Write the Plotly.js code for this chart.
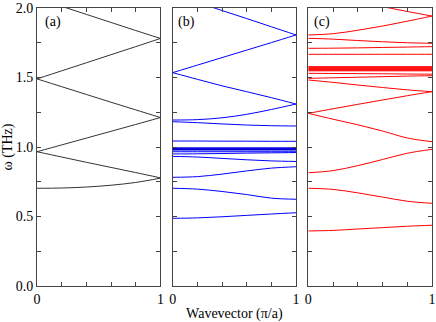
<!DOCTYPE html>
<html>
<head>
<meta charset="utf-8">
<script src="https://cdn.plot.ly/plotly-3.0.1.min.js"></script>
<style>html,body{margin:0;padding:0;background:#fff;}#chart{width:436px;height:322px;}</style>
</head>
<body>
<div id="chart"></div>
<script>
// Wavevector grid (pi/a)
const kGrid = [0, 0.2, 0.4, 0.6, 0.8, 1.0];

// Panel (a): frequencies (THz) at kGrid
const bandsA = [
  [0.703, 0.705, 0.712, 0.725, 0.745, 0.776],
  [0.966, 0.928, 0.890, 0.853, 0.816, 0.778],
  [0.966, 1.015, 1.064, 1.113, 1.162, 1.212],
  [1.490, 1.434, 1.378, 1.322, 1.267, 1.212],
  [1.490, 1.548, 1.606, 1.664, 1.722, 1.781],
  [2.070, 2.012, 1.954, 1.896, 1.838, 1.781]
];

// Panel (b)
const bandsB = [
  [0.487, 0.490, 0.498, 0.508, 0.518, 0.527],
  [0.703, 0.697, 0.680, 0.658, 0.632, 0.624],
  [0.782, 0.787, 0.805, 0.828, 0.848, 0.858],
  [0.932, 0.928, 0.918, 0.908, 0.900, 0.896],
  [0.950, 0.951, 0.953, 0.956, 0.958, 0.960],
  [0.966, 0.966, 0.966, 0.966, 0.966, 0.966],
  [1.043, 1.043, 1.042, 1.042, 1.041, 1.041],
  [1.182, 1.175, 1.166, 1.158, 1.153, 1.151],
  [1.194, 1.197, 1.210, 1.235, 1.270, 1.309],
  [1.535, 1.487, 1.440, 1.398, 1.355, 1.309],
  [1.535, 1.589, 1.643, 1.697, 1.751, 1.806],
  [2.100, 2.041, 1.982, 1.924, 1.865, 1.806]
];
const flatB = [0.978, 0.982, 0.986, 0.990, 0.994];

// Panel (c)
const bandsC = [
  [0.396, 0.400, 0.410, 0.420, 0.430, 0.437],
  [0.703, 0.695, 0.670, 0.640, 0.610, 0.595],
  [0.815, 0.830, 0.866, 0.910, 0.955, 0.983],
  [1.242, 1.200, 1.160, 1.115, 1.065, 1.038],
  [1.242, 1.275, 1.307, 1.338, 1.369, 1.398],
  [1.482, 1.465, 1.446, 1.428, 1.411, 1.398],
  [1.494, 1.498, 1.502, 1.506, 1.510, 1.513],
  [1.530, 1.529, 1.528, 1.527, 1.525, 1.524],
  [1.667, 1.667, 1.667, 1.667, 1.667, 1.667],
  [1.710, 1.711, 1.713, 1.716, 1.719, 1.722],
  [1.782, 1.776, 1.766, 1.757, 1.750, 1.746],
  [1.806, 1.815, 1.840, 1.870, 1.905, 1.942],
  [2.130, 2.090, 2.050, 2.010, 1.975, 1.942]
];
const flatC = [1.548, 1.553, 1.558, 1.563, 1.568, 1.573, 1.578];

const yTickVals = [0, 0.25, 0.5, 0.75, 1.0, 1.25, 1.5, 1.75, 2.0];
const yTickText = ['0.0', '', '0.5', '', '1.0', '', '1.5', '', '2.0'];
const xTickVals = [0, 0.2, 0.4, 0.6, 0.8, 1.0];
const xTickText = ['0', '', '', '', '', '1'];

const traces = [];
function addBands(bands, color, xa, ya, width) {
  bands.forEach(function (b) {
    traces.push({
      x: kGrid, y: b, xaxis: xa, yaxis: ya, mode: 'lines',
      line: {color: color, width: width, shape: 'spline', smoothing: 1},
      hoverinfo: 'none', showlegend: false
    });
  });
}
function addFlat(vals, color, xa, ya, width) {
  vals.forEach(function (v) {
    traces.push({
      x: kGrid, y: kGrid.map(function () { return v; }), xaxis: xa, yaxis: ya,
      mode: 'lines', line: {color: color, width: width},
      hoverinfo: 'none', showlegend: false
    });
  });
}
addBands(bandsA, '#333333', 'x', 'y', 1);
addBands(bandsB, '#0000ff', 'x2', 'y2', 1);
addFlat(flatB, '#0000dd', 'x2', 'y2', 1);
addBands(bandsC, '#ff0000', 'x3', 'y3', 1);
addFlat(flatC, '#ff0000', 'x3', 'y3', 1);

const serif = 'Liberation Serif';
const fsz = 14;
const tfont = {family: serif, size: fsz, color: '#000000'};
function xAxis(domain, anchor) {
  return {
    domain: domain, anchor: anchor, range: [0, 1], tickvals: xTickVals, ticktext: xTickText,
    ticks: 'inside', ticklen: 4, tickwidth: 1, tickcolor: '#444', mirror: 'ticks',
    showline: true, linecolor: '#444', linewidth: 1, showgrid: false, zeroline: false,
    tickfont: tfont
  };
}
function yAxis(anchor, labels) {
  return {
    anchor: anchor, range: [0, 2], tickvals: yTickVals, ticktext: labels ? yTickText : yTickVals.map(function () { return ''; }),
    ticks: 'inside', ticklen: 4, tickwidth: 1, tickcolor: '#444', mirror: 'ticks',
    showline: true, linecolor: '#444', linewidth: 1, showgrid: false, zeroline: false,
    tickfont: tfont
  };
}

const layout = {
  width: 436, height: 322,
  margin: {l: 37, r: 4, t: 8, b: 36},
  paper_bgcolor: '#fff', plot_bgcolor: '#fff',
  font: tfont,
  xaxis: xAxis([0, 0.3124], 'y'),
  xaxis2: Object.assign(xAxis([0.3435, 0.6557], 'y2'), {
    title: {text: 'Wavevector (\u03c0/a)', font: tfont, standoff: 3}
  }),
  xaxis3: xAxis([0.6868, 1], 'y3'),
  yaxis: Object.assign(yAxis('x', true), {
    title: {text: '\u03c9 (THz)', font: tfont, standoff: 3}
  }),
  yaxis2: yAxis('x2', false),
  yaxis3: yAxis('x3', false),
  annotations: [
    {text: '(a)', xref: 'x domain', yref: 'y domain', x: 0.045, y: 0.985, xanchor: 'left', yanchor: 'top', showarrow: false, font: tfont},
    {text: '(b)', xref: 'x2 domain', yref: 'y2 domain', x: 0.03, y: 0.985, xanchor: 'left', yanchor: 'top', showarrow: false, font: tfont},
    {text: '(c)', xref: 'x3 domain', yref: 'y3 domain', x: 0.03, y: 0.985, xanchor: 'left', yanchor: 'top', showarrow: false, font: tfont}
  ]
};

Plotly.newPlot('chart', traces, layout, {displayModeBar: false});
</script>
</body>
</html>
